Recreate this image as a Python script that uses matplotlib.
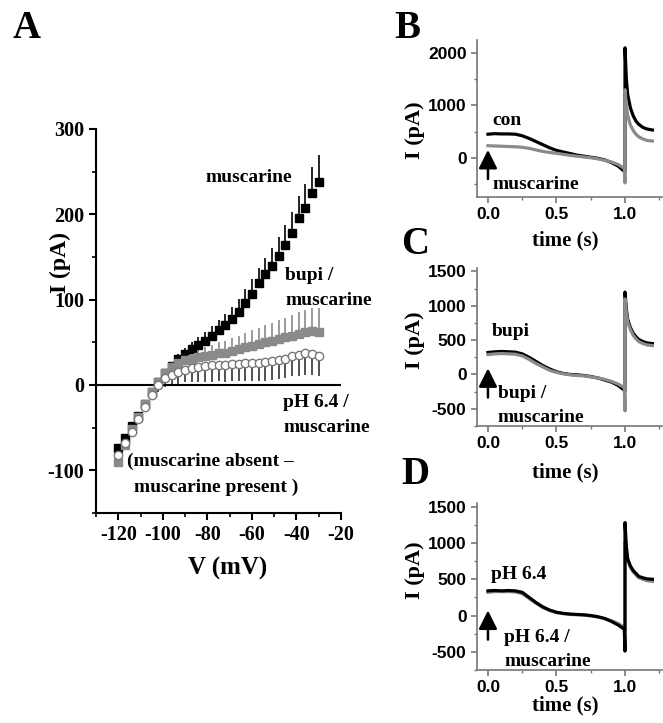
import numpy as np
import matplotlib.pyplot as plt
from matplotlib.ticker import MultipleLocator

plt.rcParams['axes.unicode_minus'] = False

SERIF = 'Liberation Serif'
SANS = 'Liberation Sans'

# ---- Panel A data: I-V relations (difference currents)
volts = [-120, -117, -114, -111, -108, -105, -102, -99, -96, -93, -90, -87, -84, -81, -78, -75,
         -72, -69, -66, -63, -60, -57, -54, -51, -48, -45, -42, -39, -36, -33, -30]
musc = [-74, -62, -48, -36, -22, -8, 4, 14, 22, 30, 36, 42, 47, 52, 58, 64,
        70, 77, 86, 96, 107, 119, 130, 140, 151, 164, 178, 196, 208, 225, 238]
musc_err = [0, 1, 1, 2, 2, 3, 3, 4, 5, 6, 7, 8, 9, 10, 11, 12,
            13, 14, 15, 16, 17, 18, 19, 20, 22, 23, 25, 26, 28, 30, 32]
bupi = [-90, -70, -52, -38, -22, -8, 4, 14, 21, 26, 29, 31, 33, 34, 35, 37,
        38, 40, 42, 44, 46, 48, 50, 52, 54, 56, 58, 60, 62, 63, 62]
bupi_err = [0, 1, 1, 2, 2, 3, 4, 5, 6, 7, 8, 9, 10, 11, 12, 13,
            14, 15, 16, 17, 18, 19, 20, 21, 22, 23, 24, 25, 26, 27, 28]
ph = [-82, -68, -55, -40, -26, -12, 0, 8, 12, 15, 18, 20, 21, 22, 23, 24,
      24, 25, 25, 26, 26, 26, 27, 28, 29, 31, 34, 35, 37, 36, 34]
ph_err = [0, 1, 2, 3, 4, 6, 8, 10, 12, 14, 15, 16, 17, 18, 19, 19,
          20, 20, 20, 21, 21, 21, 22, 22, 22, 23, 24, 24, 25, 24, 24]

# ---- Panels B-D data: current traces
t = [0, 0.05, 0.1, 0.15, 0.2, 0.25, 0.3, 0.35, 0.4, 0.45, 0.5, 0.55, 0.6, 0.65, 0.7, 0.75,
     0.8, 0.85, 0.9, 0.95, 0.995, 1.0, 1.0, 1.01, 1.02, 1.04, 1.06, 1.08, 1.1, 1.13, 1.16, 1.2]
b_con = [450, 460, 455, 455, 450, 420, 370, 310, 250, 190, 140, 110, 80, 50, 30, 10,
         -10, -40, -90, -160, -260, -270, 2100, 1500, 1200, 950, 800, 700, 640, 580, 550, 530]
b_musc = [230, 225, 220, 215, 210, 200, 180, 150, 120, 100, 85, 65, 45, 30, 15, 0,
          -20, -50, -80, -130, -200, -480, 1300, 1000, 800, 620, 520, 450, 400, 360, 330, 320]
c_bupi = [320, 330, 335, 330, 325, 300, 250, 190, 130, 80, 40, 15, 0, -5, -15, -30,
          -50, -80, -110, -160, -230, -240, 1200, 950, 800, 680, 600, 550, 510, 480, 460, 450]
c_musc = [290, 300, 305, 300, 295, 270, 220, 160, 110, 60, 30, 10, -5, -15, -20, -35,
          -50, -70, -100, -140, -190, -530, 1100, 900, 760, 650, 570, 520, 480, 450, 430, 420]
d_ph = [340, 345, 340, 345, 340, 320, 250, 180, 120, 75, 45, 30, 20, 15, 10, 0,
        -15, -40, -80, -130, -190, -490, 1280, 950, 780, 680, 620, 580, 540, 520, 505, 500]
d_musc = [320, 330, 330, 330, 325, 300, 235, 170, 110, 70, 40, 25, 15, 10, 5, -5,
          -20, -40, -70, -110, -160, -200, 1000, 900, 760, 660, 600, 560, 520, 500, 480, 470]

GRAY = '#8a8a8a'

fig = plt.figure(figsize=(6.63, 7.23), dpi=100)

# ================= Panel A
axA = fig.add_axes([96 / 663, 1 - 513 / 723, 245 / 663, 384 / 723])
n = len(volts)
axA.errorbar(volts, musc, yerr=[[0] * n, musc_err], fmt='none', ecolor='black', elinewidth=1.2, capsize=0)
axA.errorbar(volts, bupi, yerr=[[0] * n, bupi_err], fmt='none', ecolor=GRAY, elinewidth=1.2, capsize=0)
axA.errorbar(volts, ph, yerr=[ph_err, [0] * n], fmt='none', ecolor='#333333', elinewidth=1.2, capsize=0)
axA.plot(volts, musc, 's', color='black', ms=5.5, zorder=3)
axA.plot(volts, bupi, 's', color=GRAY, ms=5.5, zorder=3)
axA.plot(volts, ph, 'o', mfc='white', mec='#777777', mew=1.0, ms=6, zorder=4)
axA.axhline(0, color='black', lw=1.5, zorder=2)

axA.set_xlim(-130, -20)
axA.set_ylim(-150, 300)
axA.xaxis.set_major_locator(MultipleLocator(20))
axA.xaxis.set_minor_locator(MultipleLocator(10))
axA.yaxis.set_major_locator(MultipleLocator(100))
axA.yaxis.set_minor_locator(MultipleLocator(50))
for s in ['top', 'right']:
    axA.spines[s].set_visible(False)
for s in ['left', 'bottom']:
    axA.spines[s].set_linewidth(1.5)
axA.tick_params(which='major', direction='out', length=5, width=1.5, labelsize=14.5)
axA.tick_params(which='minor', direction='out', length=3, width=1.2)
for lab in axA.get_xticklabels() + axA.get_yticklabels():
    lab.set_fontfamily(SERIF)
    lab.set_fontweight('bold')

txt = dict(family=SERIF, weight='bold', fontsize=14)
axA.text(-42, 243, 'muscarine', ha='right', va='center', **txt)
axA.text(-45, 128, 'bupi /', ha='left', va='center', **txt)
axA.text(-45, 99, 'muscarine', ha='left', va='center', **txt)
axA.text(-46, -21, 'pH 6.4 /', ha='left', va='center', **txt)
axA.text(-46, -50, 'muscarine', ha='left', va='center', **txt)
axA.text(-116, -90, '(muscarine absent \u2013', ha='left', va='center', **txt)
axA.text(-113, -120, 'muscarine present )', ha='left', va='center', **txt)

fig.text(60 / 663, 1 - 262 / 723, 'I (pA)', rotation=90, ha='center', va='center',
         family=SERIF, weight='bold', fontsize=17)
fig.text(228 / 663, 1 - 568 / 723, 'V (mV)', ha='center', va='center',
         family=SERIF, weight='bold', fontsize=18)
fig.text(13 / 663, 1 - 28 / 723, 'A', ha='left', va='center', family=SERIF, weight='bold', fontsize=28)


# ================= Panels B-D
def trace_panel(rect, black, gray, ylim, ymaj, labels, tip, letter, letter_xy, ylab_y, xlab_y, gray_top=False):
    ax = fig.add_axes(rect)
    if gray_top:
        ax.plot(t, black, color='black', lw=2.3)
        ax.plot(t, gray, color=GRAY, lw=2.3)
    else:
        ax.plot(t, gray, color=GRAY, lw=2.3)
        ax.plot(t, black, color='black', lw=2.3)
    ax.set_xlim(-0.08, 1.27)
    ax.set_ylim(*ylim)
    ax.xaxis.set_minor_locator(MultipleLocator(0.25))
    ax.yaxis.set_major_locator(MultipleLocator(ymaj))
    ax.yaxis.set_minor_locator(MultipleLocator(ymaj / 2))
    ax.set_xticks([0, 0.5, 1.0])
    ax.set_xticklabels(['0.0', '0.5', '1.0'])
    for s in ['top', 'right']:
        ax.spines[s].set_visible(False)
    for s in ['left', 'bottom']:
        ax.spines[s].set_color('#777777')
        ax.spines[s].set_linewidth(1.2)
    ax.tick_params(which='major', direction='out', length=4, width=1.2, color='#777777',
                   labelsize=12.5)
    ax.tick_params(which='minor', direction='out', length=2.5, width=1.0, color='#777777')
    for lab in ax.get_xticklabels() + ax.get_yticklabels():
        lab.set_fontfamily(SANS)
        lab.set_fontweight('bold')
    # stimulus arrow
    ax.annotate('', xy=(0.0, tip), xytext=(0, -21), textcoords='offset points',
                arrowprops=dict(arrowstyle='-|>,head_length=0.8,head_width=0.4',
                                mutation_scale=14, lw=1.8, color='black',
                                shrinkA=0, shrinkB=0))
    for (x, y, s) in labels:
        ax.text(x, y, s, ha='left', va='center', **txt)
    fig.text(415 / 663, 1 - ylab_y / 723, 'I (pA)', rotation=90, ha='center', va='center',
             family=SERIF, weight='bold', fontsize=16)
    fig.text(565 / 663, 1 - xlab_y / 723, 'time (s)', ha='center', va='center',
             family=SERIF, weight='bold', fontsize=15)
    fig.text(letter_xy[0] / 663, 1 - letter_xy[1] / 723, letter, ha='left', va='center',
             family=SERIF, weight='bold', fontsize=28)
    return ax


trace_panel([477 / 663, 1 - 197 / 723, 185 / 663, 157 / 723], b_con, b_musc, (-750, 2250), 1000,
            [(0.03, 720, 'con'), (0.03, -510, 'muscarine')], 150, 'B', (394, 28), 130, 240, gray_top=True)
trace_panel([477 / 663, 1 - 426 / 723, 185 / 663, 158 / 723], c_bupi, c_musc, (-750, 1550), 500,
            [(0.03, 620, 'bupi'), (0.07, -280, 'bupi /'), (0.07, -620, 'muscarine')], 90, 'C', (401, 244),
            340, 472, gray_top=True)
trace_panel([477 / 663, 1 - 670 / 723, 185 / 663, 167 / 723], d_ph, d_musc, (-750, 1550), 500,
            [(0.02, 560, 'pH 6.4'), (0.12, -300, 'pH 6.4 /'), (0.12, -630, 'muscarine')], 70, 'D', (401, 474),
            570, 705)

fig.savefig('out.png', dpi=100)
